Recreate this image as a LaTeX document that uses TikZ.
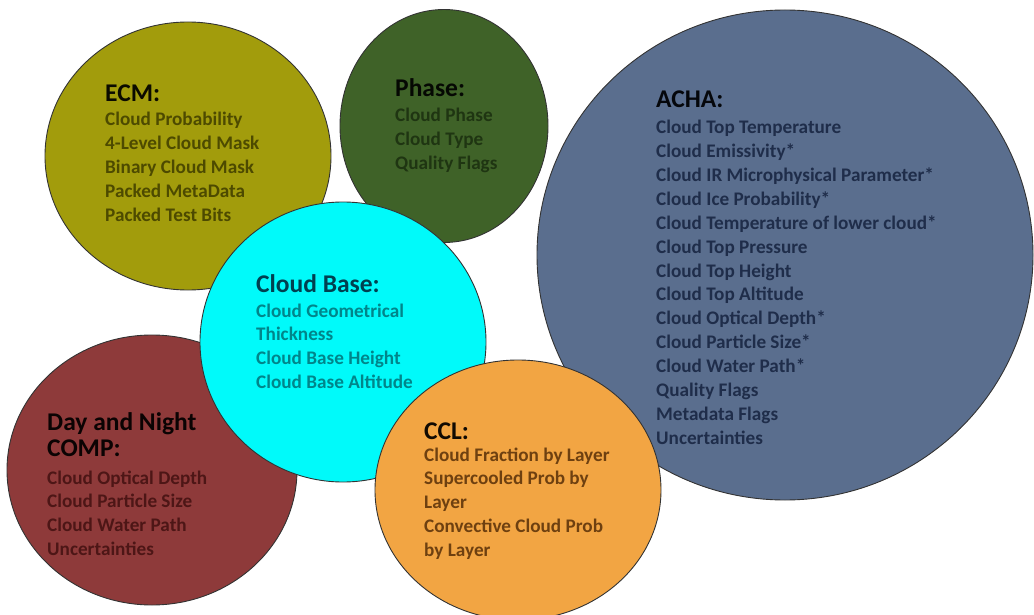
\documentclass[tikz,border=0pt]{standalone}
\usepackage{fontspec}
\setmainfont{Carlito}
\usepackage{tikz}
\usetikzlibrary{shapes.geometric,positioning}
\definecolor{ecmfill}{HTML}{A29C0C}
\definecolor{ecmtext}{HTML}{4D4A00}
\definecolor{phasefill}{HTML}{3F6228}
\definecolor{phasetext}{HTML}{1F3512}
\definecolor{achafill}{HTML}{5A6E8E}
\definecolor{achatext}{HTML}{1F2D4A}
\definecolor{basefill}{HTML}{00FAFA}
\definecolor{basetext}{HTML}{00858A}
\definecolor{basehead}{HTML}{004050}
\definecolor{compfill}{HTML}{8E3A3A}
\definecolor{comptext}{HTML}{4D1616}
\definecolor{cclfill}{HTML}{F2A543}
\definecolor{ccltext}{HTML}{6E4010}
\tikzset{
  bubble/.style={ellipse, draw=black!80, line width=0.9pt, inner sep=0pt},
  head/.style={anchor=base west, inner sep=0pt, font=\fontsize{25.5}{30}\selectfont\bfseries},
  entry/.style={anchor=base west, inner sep=0pt, font=\fontsize{19.2}{24}\selectfont\bfseries}
}

\begin{document}
\begin{tikzpicture}[x=1pt,y=-1pt]
    \useasboundingbox (0,0) rectangle (1034,615);

    % Bubbles
    \node[bubble, fill=achafill, minimum width=496pt, minimum height=490pt] (acha) at (785,255) {};
    \node[bubble, fill=ecmfill, minimum width=286pt, minimum height=268pt] (ecm) at (188,156) {};
    \node[bubble, fill=phasefill, minimum width=208pt, minimum height=233pt] (phase) at (444,126) {};
    \node[bubble, fill=compfill, minimum width=290pt, minimum height=270pt] (comp) at (152,470) {};
    \node[bubble, fill=basefill, minimum width=286pt, minimum height=280pt] (base) at (343,342) {};
    \node[bubble, fill=cclfill, minimum width=286pt, minimum height=260pt] (ccl) at (518,490) {};

    % ECM
    \node[head, text=black!85!ecmtext] (ecmT) at (105,102) {ECM:};
    \foreach \t [count=\i from 0] in {Cloud Probability, 4-Level Cloud Mask, Binary Cloud Mask, Packed MetaData, Packed Test Bits}
        \node[entry, text=ecmtext] (ecm-\i) at (105,{126+23.8*\i}) {\t};

    % Phase
    \node[head, text=black!85!phasetext] (phaseT) at (395,97) {Phase:};
    \foreach \t [count=\i from 0] in {Cloud Phase, Cloud Type, Quality Flags}
        \node[entry, text=phasetext] (phase-\i) at (395,{122+23.6*\i}) {\t};

    % ACHA
    \node[head, text=black!85!achatext] (achaT) at (656,108) {ACHA:};
    \foreach \t [count=\i from 0] in {Cloud Top Temperature, Cloud Emissivity*, Cloud IR Microphysical Parameter*, Cloud Ice Probability*, Cloud Temperature of lower cloud*, Cloud Top Pressure, Cloud Top Height, Cloud Top Altitude, Cloud Optical Depth*, Cloud Particle Size*, Cloud Water Path*, Quality Flags, Metadata Flags, Uncertainties}
        \node[entry, text=achatext] (acha-\i) at (656,{134+23.85*\i}) {\t};

    % Cloud Base
    \node[head, text=basehead] (baseT) at (256,292) {Cloud Base:};
    \foreach \t [count=\i from 0] in {Cloud Geometrical, Thickness, Cloud Base Height, Cloud Base Altitude}
        \node[entry, text=basetext] (base-\i) at (256,{317+23.9*\i}) {\t};

    % Day and Night COMP
    \node[head, text=black!85!comptext] (compT) at (47,430) {Day and Night};
    \node[head, text=black!85!comptext] (compT2) at (47,456) {COMP:};
    \foreach \t [count=\i from 0] in {Cloud Optical Depth, Cloud Particle Size, Cloud Water Path, Uncertainties}
        \node[entry, text=comptext] (comp-\i) at (47,{484+23.7*\i}) {\t};

    % CCL
    \node[head, text=black!85!ccltext] (cclT) at (424,439) {CCL:};
    \foreach \t [count=\i from 0] in {Cloud Fraction by Layer, Supercooled Prob by, Layer, Convective Cloud Prob, by Layer}
        \node[entry, text=ccltext] (ccl-\i) at (424,{461+23.8*\i}) {\t};

\end{tikzpicture}
\end{document}
